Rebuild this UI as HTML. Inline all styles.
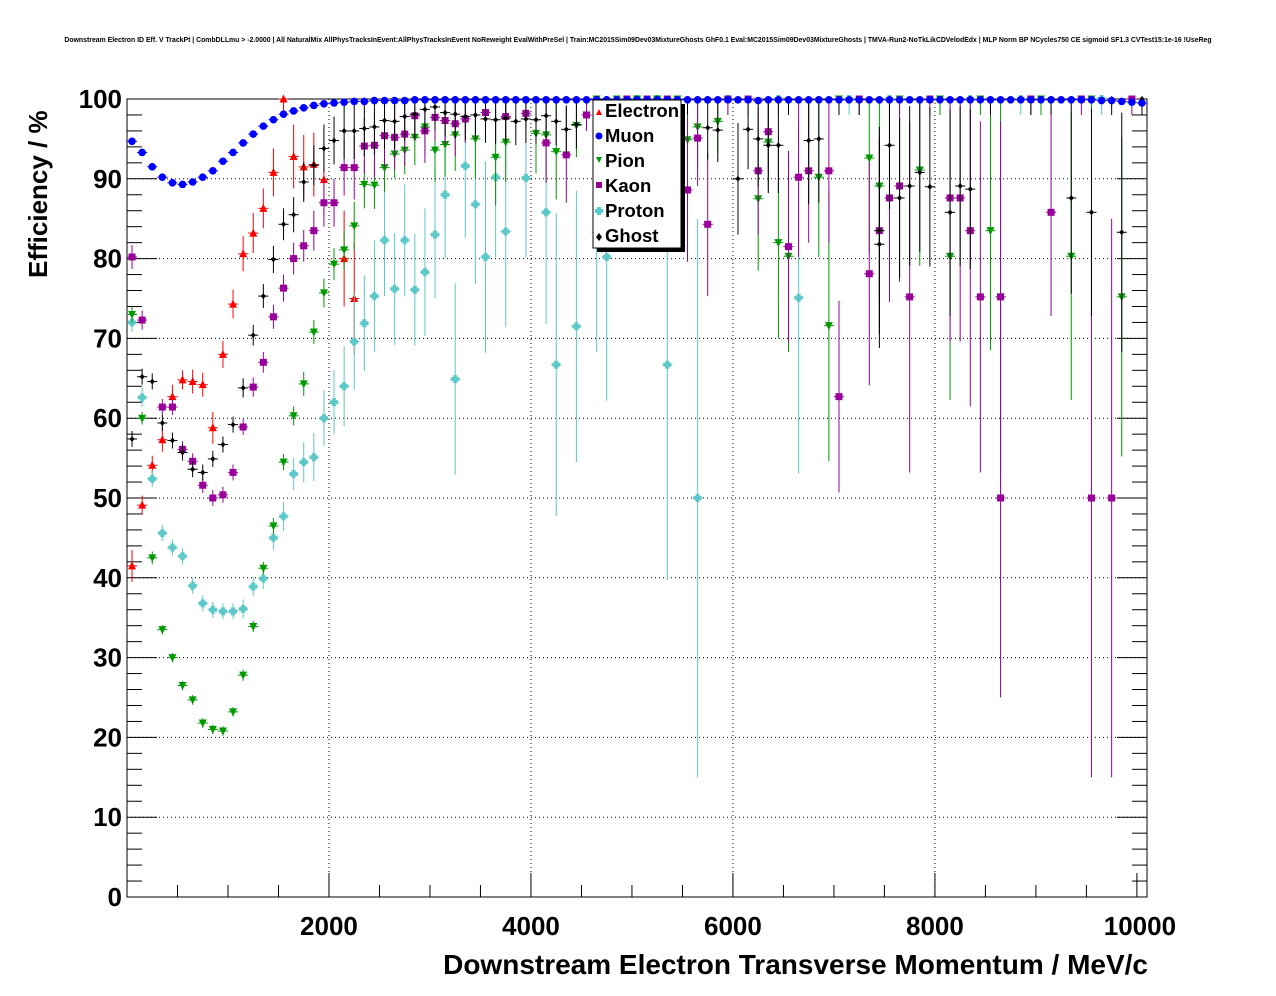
<!DOCTYPE html>
<html><head><meta charset="utf-8"><style>
html,body{margin:0;padding:0;background:#fff;}
svg{display:block;font-family:"Liberation Sans",Arial,sans-serif;}
</style></head><body>
<svg id="chart" width="1276" height="996" viewBox="0 0 1276 996">
<text x="638" y="42" font-size="6.9" font-weight="bold" text-anchor="middle">Downstream Electron ID Eff. V TrackPt | CombDLLmu &gt; -2.0000 | All NaturalMix AllPhysTracksInEvent:AllPhysTracksInEvent NoReweight EvalWithPreSel | Train:MC2015Sim09Dev03MixtureGhosts GhF0.1 Eval:MC2015Sim09Dev03MixtureGhosts | TMVA-Run2-NoTkLikCDVelodEdx | MLP Norm BP NCycles750 CE sigmoid SF1.3 CVTest15:1e-16 !UseReg</text>
<g id="grid"></g>
<g id="axes"></g>
<g id="marks"></g>
<text x="1148" y="974" font-size="28" font-weight="bold" text-anchor="end">Downstream Electron Transverse Momentum / MeV/c</text>
<text transform="translate(47,278) rotate(-90)" font-size="26" font-weight="bold">Efficiency / %</text>
<g>
<rect x="597" y="104" width="88" height="148" fill="#000"/>
<rect x="593" y="100" width="88" height="148" fill="#fff" stroke="#000" stroke-width="1"/>
<g font-size="18.5" font-weight="bold">
<path d="M596 115 l3 -6 l3 6z" fill="#f00"/><text x="605" y="117">Electron</text>
<circle cx="599" cy="136" r="3.5" fill="#00f"/><text x="605" y="142">Muon</text>
<path d="M596 157 l6 0 l-3 6z" fill="#090"/><text x="605" y="167">Pion</text>
<rect x="596" y="182" width="6" height="6" fill="#909"/><text x="605" y="192">Kaon</text>
<path d="M597 207 h4 v2 h2 v4 h-2 v2 h-4 v-2 h-2 v-4 h2z" fill="#5cc"/><text x="605" y="217">Proton</text>
<path d="M599 233 l3 4 l-3 4 l-3 -4z" fill="#000"/><text x="605" y="242">Ghost</text>
</g></g>
</svg>
<script>
const xTicks=[2000,4000,6000,8000,10000];
const yTicks=[0,10,20,30,40,50,60,70,80,90,100];
const electronX=[50,150,250,350,450,550,650,750,850,950,1050,1150,1250,1350,1450,1550,1650,1750,1850,1950,2150,2250];
const electronY=[41.5,49.1,54.1,57.3,62.7,64.8,64.6,64.2,58.8,68,74.3,80.6,83.2,86.3,90.8,100,92.8,91.5,91.8,89.9,80,75];
const electronE=[2,1.2,1.2,1.5,1.5,1.2,1.5,1.5,2,1.7,1.8,2.2,2.5,2.5,3,2,4,4,4,4.5,6,7];
const muonY=[94.7,93.3,91.5,90.2,89.5,89.3,89.6,90.2,91.0,92.2,93.3,94.5,95.6,96.6,97.4,98.1,98.5,98.9,99.2,99.4,99.5,99.6,99.7,99.7,99.8,99.8,99.8,99.8,99.9,99.9,99.9,99.9,99.9,99.9,99.9,99.9,99.9,99.9,99.9,99.9,99.9,99.9,99.9,99.9,99.9,99.9,99.9,99.9,99.9,99.9,99.9,99.9,99.9,99.9,99.9,99.9,99.9,99.9,99.9,99.9,99.9,99.9,99.8,99.9,99.9,99.9,99.9,99.9,99.9,99.9,99.9,99.9,99.9,99.9,99.9,99.9,99.9,99.9,99.9,99.9,99.9,99.9,99.9,99.9,99.9,99.9,99.9,99.9,99.9,99.9,99.9,99.9,99.9,99.9,99.9,99.9,99.8,99.8,99.7,99.6,99.5];
const pionX=[50,150,250,350,450,550,650,750,850,950,1050,1150,1250,1350,1450,1550,1650,1750,1850,1950,2050,2150,2250,2350,2450,2550,2650,2750,2850,2950,3050,3150,3250,3450,3650,3750,4050,4150,4250,4450,4650,4850,5050,5250,5450,5550,5650,5850,6250,6350,6450,6550,6850,6950,7350,7450,7850,8150,8550,8650,9350,9850,7050,7650,8050,8450,9050,9550];
const pionY=[73,60,42.5,33.5,30,26.5,24.7,21.8,21,20.8,23.2,27.8,33.9,41.2,46.5,54.5,60.3,64.3,70.8,75.7,79.3,81.1,84.1,89.3,89.2,91.4,93.1,93.6,95.2,96.5,93.6,94.3,95.5,95,92.7,94.6,95.7,95.5,93.4,96.7,100,100,100,100,100,94.9,96.5,97.2,87.5,94.6,82,80.3,90.2,71.6,92.6,89.1,91.1,80.3,83.5,75.2,80.3,75.2,100,100,100,100,100,100];
const pionE=[1,0.8,0.8,0.6,0.6,0.6,0.6,0.6,0.6,0.6,0.6,0.7,0.7,0.8,1,1,1.2,1.5,1.5,1.8,2,2.5,3,3,3,3,3,3,3.5,3.5,4,4,4.5,5,6,5,5,6,6,4,2,2,2,2,2,6,5,4,9,6,12,12,10,17,12,14,12,18,15,25,18,20,2,2,2,2,2,2];
const kaonX=[50,150,350,450,550,650,750,850,950,1050,1150,1250,1350,1450,1550,1650,1750,1850,1950,2050,2150,2250,2350,2450,2550,2650,2750,2850,2950,3050,3150,3250,3350,3550,3750,3950,4150,4350,4550,4750,4950,5150,5350,5550,5650,5750,6250,6350,6550,6650,6750,6950,7050,7350,7450,7550,7650,7750,8150,8250,8350,8450,8650,8650,9150,9550,9750,5950,6150,7250,7950,8950,9450,9950];
const kaonY=[80.2,72.3,61.4,61.4,56.1,54.6,51.6,50,50.4,53.2,58.9,63.9,67,72.7,76.3,80,81.6,83.5,87,87,91.4,91.4,94.1,94.2,95.4,95.2,95.6,97.9,96,97.7,97.3,96.9,97.5,98.3,97.8,98.2,94.5,93,98,99,100,100,100,88.6,95.1,84.3,91,95.9,81.5,90.2,91,91,62.7,78.1,83.5,87.6,89.1,75.2,87.6,87.6,83.5,75.2,75.2,50,85.8,50,50,100,100,100,100,100,100,100];
const kaonE=[1.5,1.2,1,1,1,1,1,1,1,1,1,1.2,1.3,1.5,1.7,2,2,2.5,3,3,3.5,4,3.5,4,4,4,4,3,4,3,3,4,3,2,3,2,5,6,2,2,2,2,2,9,6,9,8,5,12,10,9,9,12,14,12,13,12,22,18,18,22,22,22,25,13,35,35,2,2,2,2,2,2,2];
const protonX=[50,150,250,350,450,550,650,750,850,950,1050,1150,1250,1350,1450,1550,1650,1750,1850,1950,2050,2150,2250,2350,2450,2550,2650,2750,2850,2950,3050,3150,3250,3350,3450,3550,3650,3750,3950,4150,4250,4450,4650,4750,5350,5650,6650,5050,5250,5950,6450,7150,7550,8350,8850,9650];
const protonY=[72,62.6,52.4,45.6,43.8,42.7,39,36.8,36,35.8,35.8,36.1,38.9,39.9,45,47.7,53,54.5,55.1,60,62,64,69.6,71.9,75.3,82.3,76.2,82.3,76.1,78.3,83,88,64.9,91.6,86.8,80.2,90.2,83.4,90.1,85.8,66.7,71.5,83.3,80.2,66.7,50,75.1,100,100,100,100,100,100,100,100,100];
const protonE=[1.2,1.2,1,1,1,1,1,1,1,1,1,1.2,1.2,1.3,1.5,1.8,2,2.5,3,3.5,4,5,6,6,7,7,7,7,7,8,8,8,12,9,10,12,10,12,10,14,19,17,15,18,27,35,22,2,2,2,2,2,2,2,2,2];
const ghostX=[50,150,250,350,450,550,650,750,850,950,1050,1150,1250,1350,1450,1550,1650,1750,1850,1950,2050,2150,2250,2350,2450,2550,2650,2750,2850,2950,3050,3150,3250,3350,3450,3550,3650,3750,3850,3950,4050,4150,4250,4350,4450,5750,5850,6050,6150,6250,6350,6450,6750,6850,7450,7450,7550,7650,7750,7850,7950,8150,8250,8350,9350,9550,9850,4650,4950,5550,6550,7050,7250,8550,8950,9150,9750,10050];
const ghostY=[57.4,65.2,64.6,59.4,57.2,55.7,53.6,53.2,54.9,56.7,59.2,63.8,70.4,75.3,79.9,84.3,85.5,89.6,91.7,93.8,94.8,96,96,96.3,96.5,97.3,97.2,97.8,98.1,98.7,99,98.3,98.1,97.8,98,97.5,97.4,97.6,97.2,97.5,97.4,97.9,97.2,96.2,96.8,96.4,96.1,90,96.2,95,94.2,94.2,94.8,95,81.8,83.5,94.2,87.6,89.1,90.8,89,85.8,89.1,88.7,87.6,85.8,83.3,100,100,100,100,100,100,100,100,100,100,100];
const ghostE=[1,1,1,1,1,1,1,1,1,1,1,1.2,1.3,1.5,1.7,2,2.2,2.5,2.5,3,3,3.5,3.5,3.5,3.5,3.5,3.5,3,3,3,3,3,3,3,3,3,3,3,3,3,3,3,3,3,3,4,4,7,5,6,6,6,8,8,13,13,8,10,10,10,10,13,10,10,12,13,15,2,2,2,2,2,2,2,2,2,2,2];

const L=127,R=1147,T=99,B=897,XMAX=10100,YMAX=100;
const sx=v=>L+(v/XMAX)*(R-L);
const sy=v=>B-(v/YMAX)*(B-T);
const NS='http://www.w3.org/2000/svg';
function mk(tag,attrs,parent){const e=document.createElementNS(NS,tag);for(const k in attrs)e.setAttribute(k,attrs[k]);parent.appendChild(e);return e;}
const grid=document.getElementById('grid'),axes=document.getElementById('axes'),marks=document.getElementById('marks');
xTicks.forEach(t=>{if(t<XMAX-200){const g=mk('line',{x1:sx(t),x2:sx(t),y1:T,y2:B,stroke:'#000','stroke-width':1,'stroke-dasharray':'1,3'},grid);

}});
yTicks.forEach(t=>{if(t>0&&t<100){const g=mk('line',{x1:L,x2:R,y1:sy(t),y2:sy(t),stroke:'#000','stroke-width':1,'stroke-dasharray':'1,3'},grid);

}});
const frame=mk('rect',{x:L,y:T,width:R-L,height:B-T,fill:'none',stroke:'#000','stroke-width':1},axes);


for(let v=0;v<=XMAX;v+=500){const major=v%2000===0;mk('line',{x1:sx(v),x2:sx(v),y1:B,y2:B-(major?24:12),stroke:'#000'},axes);}
for(let v=0;v<=100;v+=2){const major=v%10===0;mk('line',{x1:L,x2:L+(major?30:15),y1:sy(v),y2:sy(v),stroke:'#000'},axes);mk('line',{x1:R,x2:R-(major?30:15),y1:sy(v),y2:sy(v),stroke:'#000'},axes);}
xTicks.forEach(t=>{const tx=mk('text',{x:sx(t)+(t===10000?3:0),y:B+38,'font-size':26,'font-weight':'bold','text-anchor':'middle'},axes);tx.textContent=t;

});
yTicks.forEach(t=>{const tx=mk('text',{x:L-5,y:sy(t)+9,'font-size':26,'font-weight':'bold','text-anchor':'end'},axes);tx.textContent=t;

});

function marker(kind,cx,cy,col,g){
 if(kind==='tri')mk('path',{d:`M${cx-4} ${cy+3.5} L${cx} ${cy-4.5} L${cx+4} ${cy+3.5}Z`,fill:col},g);
 else if(kind==='circ')mk('circle',{cx:cx,cy:cy,r:3.8,fill:col},g);
 else if(kind==='tridown')mk('path',{d:`M${cx-4} ${cy-3.5} L${cx+4} ${cy-3.5} L${cx} ${cy+4.5}Z`,fill:col},g);
 else if(kind==='sq')mk('rect',{x:cx-3.5,y:cy-3.5,width:7,height:7,fill:col},g);
 else if(kind==='plus')mk('path',{d:`M${cx-2} ${cy-4} h4 v2 h2 v4 h-2 v2 h-4 v-2 h-2 v-4 h2z`,fill:col},g);
 else mk('path',{d:`M${cx} ${cy-3} L${cx+2.5} ${cy} L${cx} ${cy+3} L${cx-2.5} ${cy}Z`,fill:col},g);
}
function series(name,xs,ys,es,col,kind){
 const g=mk('g',{},marks);
 
 
 xs.forEach((x,i)=>{const cx=sx(x),cy=sy(ys[i]),e=es?es[i]:0;
  const p=mk('g',{},g);
  
  
  mk('line',{x1:sx(x-50),x2:sx(x+50),y1:cy,y2:cy,stroke:col,'stroke-width':1},p);
  if(e>0)mk('line',{x1:cx,x2:cx,y1:sy(Math.min(100,ys[i]+e)),y2:sy(Math.max(0,ys[i]-e)),stroke:col,'stroke-width':1},p);
  marker(kind,cx,cy,col,p);});
}
series('electron',electronX,electronY,electronE,'#ff0000','tri');
series('proton',protonX,protonY,protonE,'#5cc8c8','plus');
series('pion',pionX,pionY,pionE,'#009900','tridown');
series('kaon',kaonX,kaonY,kaonE,'#990099','sq');
series('ghost',ghostX,ghostY,ghostE,'#000000','diam');
const muonX=muonY.map((_,i)=>50+100*i);
series('muon',muonX,muonY,null,'#0000ff','circ');
</script>
</body></html>
